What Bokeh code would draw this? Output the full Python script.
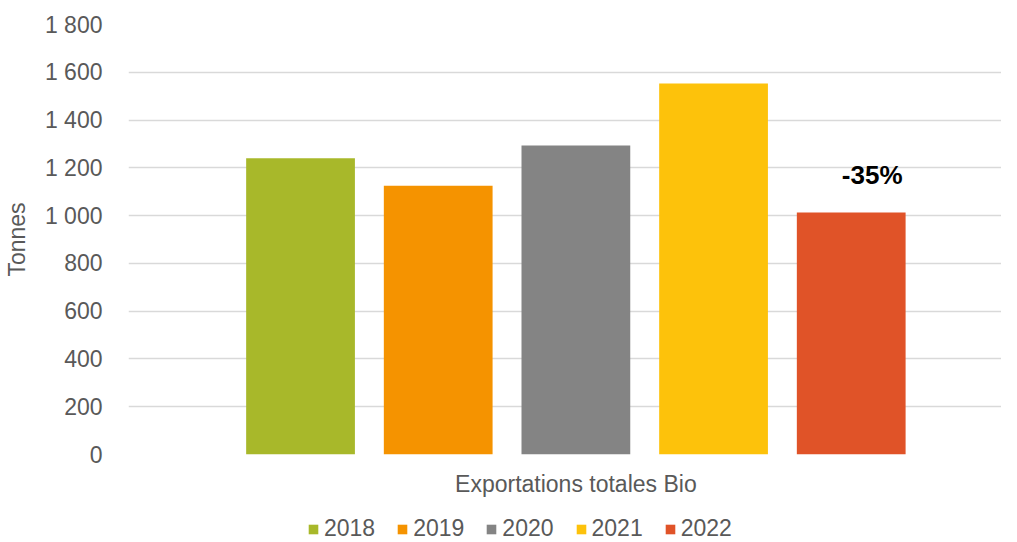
from bokeh.plotting import figure
from bokeh.layouts import column
from bokeh.models import ColumnDataSource, Range1d, FixedTicker, Legend, LegendItem
from bokeh.core.properties import value
from bokeh.embed import file_html
from bokeh.resources import INLINE

# ---- data ----
years = ["2018", "2019", "2020", "2021", "2022"]
tonnes = [1240, 1125, 1293, 1553, 1013]
colors = ["#A8B82A", "#F59300", "#848484", "#FDC20B", "#E05328"]
category = "Exportations totales Bio"
y_ticks = [0, 200, 400, 600, 800, 1000, 1200, 1400, 1600, 1800]
y_tick_labels = ["0", "200", "400", "600", "800", "1 000", "1 200", "1 400", "1 600", "1 800"]
annotation_text = ["-35%"]

FONT = "Liberation Sans"
GREY = "#595959"

xs = list(range(len(years)))
src = ColumnDataSource(dict(x=xs, top=tonnes, color=colors, year=years))
xr = Range1d(-1.2496, 5.0916)

p = figure(width=1001, height=500, output_backend="svg", toolbar_location=None,
           x_range=xr, y_range=Range1d(0, 1800),
           min_border_left=118, min_border_right=0, min_border_top=24, min_border_bottom=46)
p.outline_line_color = None
p.background_fill_color = "white"
p.border_fill_color = "white"

bars = p.vbar(x="x", top="top", width=0.79, color="color", line_color=None, source=src)

# annotation above last bar
p.text(x=[xs[-1]], y=[tonnes[-1]], text=annotation_text, x_offset=21, y_offset=-38,
       text_align="center", text_baseline="alphabetic",
       text_font=value(FONT), text_font_style="bold", text_font_size="26px",
       text_color="black")

# y axis
p.yaxis.ticker = FixedTicker(ticks=y_ticks)
p.yaxis.major_label_overrides = {t: l for t, l in zip(y_ticks, y_tick_labels)}
p.yaxis.axis_label = "Tonnes"
p.yaxis.axis_label_text_font = FONT
p.yaxis.axis_label_text_font_size = "23px"
p.yaxis.axis_label_text_font_style = "normal"
p.yaxis.axis_label_text_color = GREY
p.yaxis.axis_label_standoff = 12
p.yaxis.major_label_text_font = FONT
p.yaxis.major_label_text_font_size = "23px"
p.yaxis.major_label_text_color = GREY
p.yaxis.major_label_standoff = 20
p.yaxis.axis_line_color = None
p.yaxis.major_tick_line_color = None
p.yaxis.minor_tick_line_color = None

# x axis
p.xaxis.ticker = FixedTicker(ticks=[2])
p.xaxis.major_label_overrides = {2: category}
p.xaxis.major_label_text_font = FONT
p.xaxis.major_label_text_font_size = "23px"
p.xaxis.major_label_text_color = GREY
p.xaxis.major_label_standoff = 10
p.xaxis.axis_line_color = None
p.xaxis.major_tick_line_color = None
p.xaxis.minor_tick_line_color = None

# grid
p.xgrid.grid_line_color = None
p.ygrid.ticker = FixedTicker(ticks=y_ticks)
p.ygrid.grid_line_color = "#D9D9D9"
p.ygrid.grid_line_width = 1.5
p.ygrid.level = "underlay"

# legend strip (separate figure below the chart, frames aligned)
pl = figure(width=1001, height=42, output_backend="svg", toolbar_location=None,
            x_range=xr, y_range=Range1d(0, 1),
            min_border_left=0, min_border_right=0, min_border_top=0, min_border_bottom=0)
pl.axis.visible = False
pl.grid.visible = False
pl.outline_line_color = None
pl.border_fill_color = "white"
lbars = pl.vbar(x="x", top="top", width=0.79, color="color", line_color=None, source=src)
lbars.visible = False

items = [LegendItem(label=y, renderers=[lbars], index=i) for i, y in enumerate(years)]
lg = Legend(items=items, orientation="horizontal", location=(179, 0),
            glyph_width=12, glyph_height=12, label_standoff=5, spacing=21,
            padding=0, margin=0, border_line_color=None, background_fill_alpha=0,
            label_text_font=FONT, label_text_font_size="23px", label_text_color=GREY)
pl.add_layout(lg, "center")

layout = column(p, pl, spacing=0)
open("out.html", "w").write(file_html(layout, INLINE))
